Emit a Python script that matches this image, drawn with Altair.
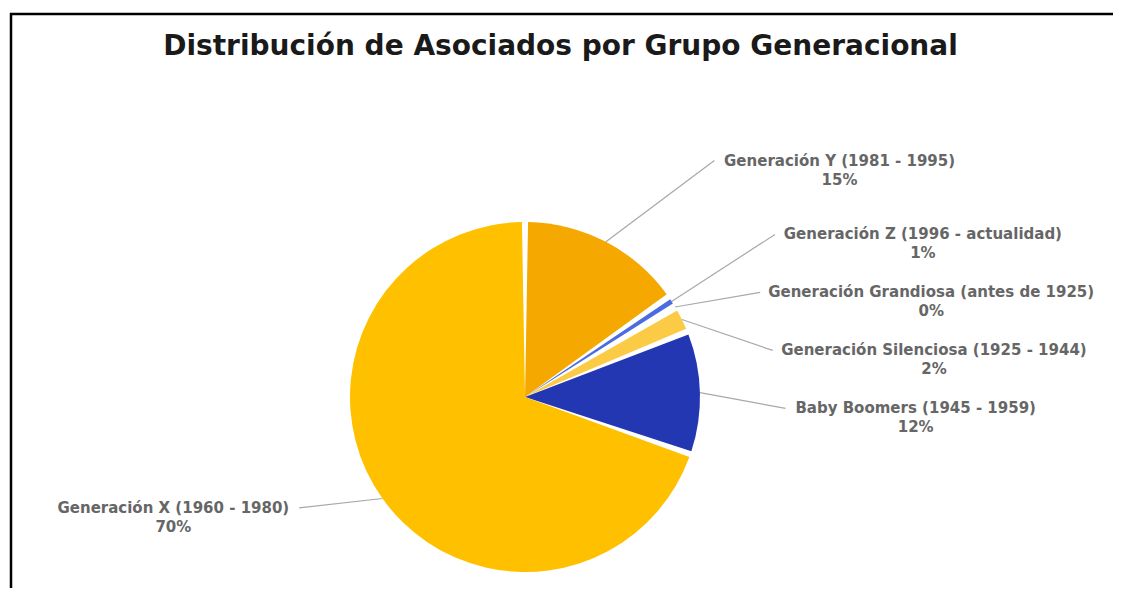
import math
import altair as alt
import pandas as pd

# ---------------- data ----------------
names = [
    "Generación Y (1981 - 1995)",
    "Generación Z (1996 - actualidad)",
    "Generación Grandiosa (antes de 1925)",
    "Generación Silenciosa (1925 - 1944)",
    "Baby Boomers (1945 - 1959)",
    "Generación X (1960 - 1980)",
]
values = [15.3, 1.0, 0.2, 2.4, 11.4, 69.7]
pct_text = ["15%", "1%", "0%", "2%", "12%", "70%"]
colors = ["#F5A800", "#4A6CE0", "#7A8FE6", "#FBCB45", "#2337B3", "#FFC000"]
title_text = "Distribución de Asociados por Grupo Generacional"

# ---------------- layout / style ----------------
PAD_TOP = 60
W, H = 1105, 520
X0, Y0 = 8, 8 + PAD_TOP          # page position of the plot origin
CX, CY = 525, 397                # pie centre (page px)
R = 175
FONT = "DejaVu Sans"
LABEL_SIZE = 15
LABEL_WEIGHT = "bold"
LABEL_COLOR = "#666666"
LINE_GAP = 19
SPACING = 58
TEXT_GAP = 12
LABEL_R = 217
LABEL_LIFT = {"right": 44, "left": 15}

# approximate DejaVu Sans advance widths (em) for centring two-line labels
CW = {" ": .318, "(": .39, ")": .39, "-": .361, "%": .95, "A": .684, "B": .686,
      "G": .776, "S": .635, "X": .686, "Y": .611, "Z": .686, "a": .613, "b": .635,
      "c": .55, "d": .635, "e": .615, "i": .278, "l": .278, "m": .974, "n": .634,
      "o": .612, "ó": .612, "r": .411, "s": .521, "t": .392, "u": .634, "y": .592}
BOLD_FACTOR = 1.09


def text_w(s):
    return sum(CW.get(ch, .636 if ch.isdigit() else .6) for ch in s) * LABEL_SIZE * BOLD_FACTOR


total = sum(values)
rows = []
cum = 0.0
for i, (n, v, p) in enumerate(zip(names, values, pct_text)):
    mid = math.radians((cum + v / 2) / total * 360)
    cum += v
    ax = CX + R * math.sin(mid)
    ay = CY - R * math.cos(mid)
    side = "right" if math.sin(mid) >= 0 else "left"
    ideal = CY - (LABEL_R * math.cos(mid) + LABEL_LIFT[side])
    rows.append(dict(idx=i, name=n, value=v, pct=p, ax=ax, ay=ay,
                     side=side, ideal=ideal))

# resolve overlaps on each side (push downwards)
for side in ("right", "left"):
    grp = sorted([r for r in rows if r["side"] == side], key=lambda r: r["ideal"])
    prev = None
    for r in grp:
        y = r["ideal"] if prev is None else max(r["ideal"], prev + SPACING)
        r["ly"] = y
        prev = y

for r in rows:
    dy = abs(r["ly"] - r["ay"])
    run = 80 + 0.35 * dy
    w = text_w(r["name"])
    if r["side"] == "right":
        r["ex"] = r["ax"] + run
        r["tcx"] = r["ex"] + TEXT_GAP + w / 2
    else:
        r["ex"] = r["ax"] - run
        r["tcx"] = r["ex"] - TEXT_GAP - w / 2
    r["py"] = r["ly"] + LINE_GAP

df = pd.DataFrame(rows)

xs = alt.Scale(domain=[X0, X0 + W], nice=False, zero=False)
ys = alt.Scale(domain=[Y0, Y0 + H], reverse=True, nice=False, zero=False)

pie = alt.Chart(df).mark_arc(radius=R, padAngle=0.035).encode(
    theta=alt.Theta("value:Q", stack=True),
    order=alt.Order("idx:Q"),
    color=alt.Color("name:N", scale=alt.Scale(domain=names, range=colors), legend=None),
    x=alt.value(CX - X0),
    y=alt.value(CY - Y0),
)

leaders = alt.Chart(df).mark_rule(color="#a8a8a8", strokeWidth=1.2).encode(
    x=alt.X("ax:Q", scale=xs, axis=None),
    y=alt.Y("ay:Q", scale=ys, axis=None),
    x2="ex:Q",
    y2="ly:Q",
)

name_txt = alt.Chart(df).mark_text(
    font=FONT, fontSize=LABEL_SIZE, fontWeight=LABEL_WEIGHT, color=LABEL_COLOR,
    align="center", baseline="middle"
).encode(
    x=alt.X("tcx:Q", scale=xs, axis=None),
    y=alt.Y("ly:Q", scale=ys, axis=None),
    text="name:N",
)

pct_txt = alt.Chart(df).mark_text(
    font=FONT, fontSize=LABEL_SIZE, fontWeight=LABEL_WEIGHT, color=LABEL_COLOR,
    align="center", baseline="middle"
).encode(
    x=alt.X("tcx:Q", scale=xs, axis=None),
    y=alt.Y("py:Q", scale=ys, axis=None),
    text="pct:N",
)

frame_df = pd.DataFrame({"k": [0]})
top_border = alt.Chart(frame_df).mark_rule(color="black", strokeWidth=2.5).encode(
    x=alt.value(10 - X0), x2=alt.value(W), y=alt.value(14 - Y0)
)
left_border = alt.Chart(frame_df).mark_rule(color="black", strokeWidth=2.5).encode(
    x=alt.value(11 - X0), y=alt.value(13 - Y0), y2=alt.value(H)
)

chart = alt.layer(top_border, left_border, leaders, pie, name_txt, pct_txt).properties(
    width=W,
    height=H,
    padding={"left": 0, "right": 0, "top": PAD_TOP, "bottom": 0},
    autosize="none",
    title=alt.TitleParams(
        title_text, font=FONT, fontSize=28, fontWeight="bold", color="#1a1a1a",
        anchor="middle", offset=-49,
    ),
).configure_view(stroke=None)

chart.save("out.html", embed_options={"renderer": "svg", "actions": False})
